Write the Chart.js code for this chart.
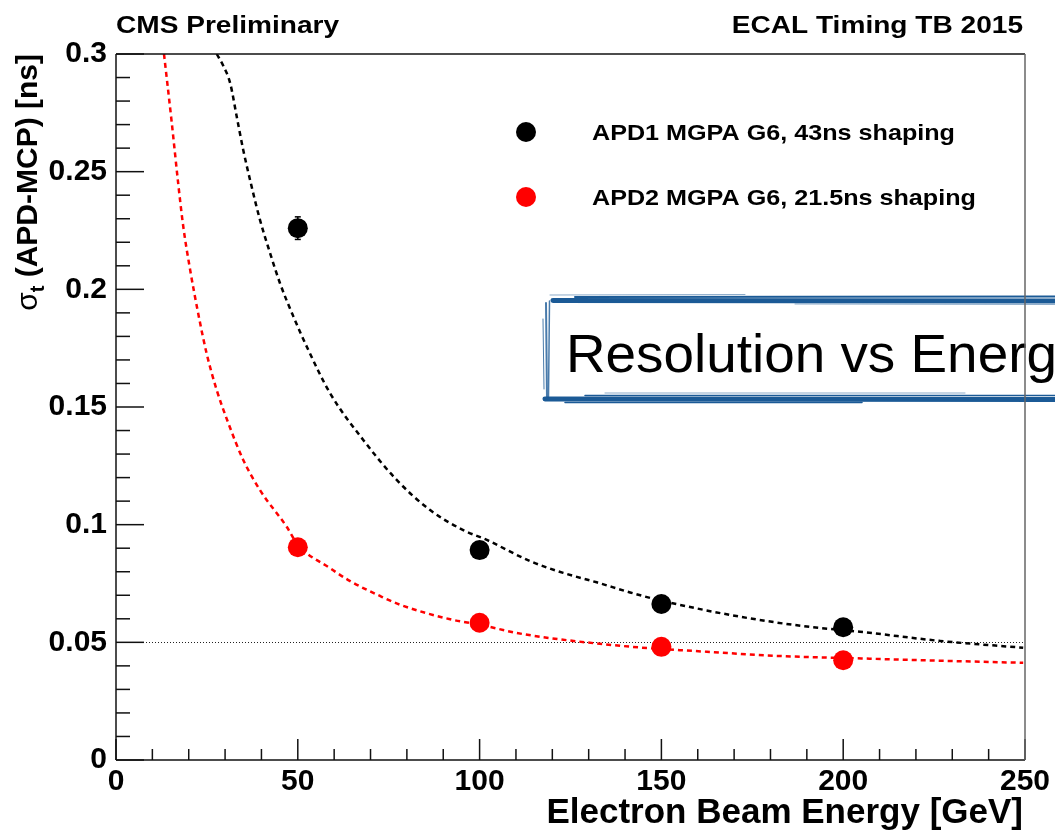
<!DOCTYPE html>
<html><head><meta charset="utf-8">
<script src="https://cdn.jsdelivr.net/npm/chart.js@4.4.1/dist/chart.umd.min.js"></script>
<style>html,body{margin:0;padding:0;background:#fff;overflow:hidden}canvas{display:block}</style>
</head><body>
<canvas id="c" width="1055" height="833"></canvas>
<script>
// ---- data ----
const energies = [50, 100, 150, 200];
const apd1Sigma = [0.2260, 0.0892, 0.0663, 0.0564];
const apd1Err   = [0.0048, 0.0015, 0.0012, 0.0012];
const apd2Sigma = [0.0904, 0.0583, 0.0481, 0.0424];
const apd2Err   = [0.0015, 0.0010, 0.0008, 0.0008];

const apd1FitE     = [27.7, 29.5, 31.4, 33.2, 35.0, 37.3, 39.6, 42.4, 45.1, 48.8, 52.9, 58.9, 68.0, 77.2, 86.4, 95.5, 102.0, 113.9, 123.0, 132.2, 141.4, 150.0, 171.6, 190.0, 204.6, 226.6, 249.5];
const apd1FitSigma = [0.300, 0.2950, 0.2876, 0.2734, 0.2592, 0.2437, 0.2295, 0.2153, 0.2026, 0.1884, 0.1742, 0.1558, 0.1360, 0.1190, 0.1062, 0.0977, 0.0935, 0.0845, 0.0795, 0.0755, 0.0712, 0.0677, 0.0609, 0.0567, 0.0545, 0.0506, 0.0477];

const apd2FitE     = [13.2, 15.3, 17.1, 18.5, 20.4, 22.6, 24.9, 27.7, 30.9, 35.0, 39.6, 46.9, 50.0, 58.9, 64.4, 72.6, 78.1, 91.9, 100.0, 110.2, 119.4, 144.1, 162.5, 180.8, 208.3, 226.6, 249.5];
const apd2FitSigma = [0.300, 0.2713, 0.2451, 0.2267, 0.2082, 0.1898, 0.1729, 0.1572, 0.1431, 0.1275, 0.1147, 0.0992, 0.0915, 0.0815, 0.0760, 0.0697, 0.0660, 0.0598, 0.0575, 0.0540, 0.0518, 0.0478, 0.0460, 0.0443, 0.0430, 0.0422, 0.0413];

const xTicks = [0, 50, 100, 150, 200, 250];
const yTicks = [0, 0.05, 0.1, 0.15, 0.2, 0.25, 0.3];
const yTickLabels = ['0', '0.05', '0.1', '0.15', '0.2', '0.25', '0.3'];
const referenceLevel = 0.05;
const seriesLabels = ['APD1 MGPA G6, 43ns shaping', 'APD2 MGPA G6, 21.5ns shaping'];
const seriesColors = ['#000000', '#ff0000'];
const titleLeft = 'CMS Preliminary';
const titleRight = 'ECAL Timing TB 2015';
const xTitle = 'Electron Beam Energy [GeV]';
const annotationText = 'Resolution vs Energy';

const FONT = '"Liberation Sans", Arial, Helvetica, sans-serif';

function pts(xs, ys) { return xs.map((x, i) => ({x: x, y: ys[i]})); }

function stretchedText(ctx, text, x, y, font, sx, align, color) {
  ctx.save();
  ctx.font = font;
  ctx.textBaseline = 'alphabetic';
  ctx.textAlign = 'left';
  const w = ctx.measureText(text).width * sx;
  const x0 = align === 'right' ? x - w : (align === 'center' ? x - w / 2 : x);
  ctx.translate(x0, y);
  ctx.scale(sx, 1);
  ctx.fillStyle = color || '#000';
  ctx.fillText(text, 0, 0);
  ctx.restore();
  return w;
}

function seg(ctx, x1, y1, x2, y2) { ctx.beginPath(); ctx.moveTo(x1, y1); ctx.lineTo(x2, y2); ctx.stroke(); }

const decorPlugin = {
  id: 'decor',
  beforeDatasetsDraw(chart) {
    const {ctx, chartArea: a, scales: {x, y}} = chart;
    ctx.save();
    ctx.strokeStyle = '#222';
    ctx.lineWidth = 1;
    ctx.setLineDash([1, 2]);
    const py = Math.round(y.getPixelForValue(referenceLevel)) + 0.5;
    seg(ctx, a.left, py, a.right, py);
    ctx.setLineDash([]);
    const sets = [[apd1Sigma, apd1Err, seriesColors[0]], [apd2Sigma, apd2Err, seriesColors[1]]];
    sets.forEach(([vals, errs, col]) => {
      ctx.strokeStyle = col; ctx.lineWidth = 1.5;
      vals.forEach((v, i) => {
        const px = x.getPixelForValue(energies[i]);
        const y1 = y.getPixelForValue(v + errs[i]);
        const y2 = y.getPixelForValue(v - errs[i]);
        seg(ctx, px, y1, px, y2);
        seg(ctx, px - 3, y1, px + 3, y1);
        seg(ctx, px - 3, y2, px + 3, y2);
      });
    });
    ctx.restore();
  },
  afterDraw(chart) {
    const {ctx, chartArea: a, scales: {x, y}} = chart;
    ctx.save();
    stretchedText(ctx, titleLeft, a.left, 33, 'bold 24px ' + FONT, 1.17, 'left');
    stretchedText(ctx, titleRight, 1023, 33, 'bold 24px ' + FONT, 1.17, 'right');
    const legY = [132, 197];
    seriesLabels.forEach((lab, i) => {
      ctx.fillStyle = seriesColors[i];
      ctx.beginPath(); ctx.arc(526, legY[i], 10, 0, Math.PI * 2); ctx.fill();
      stretchedText(ctx, lab, 592, legY[i] + 7.5, 'bold 21.5px ' + FONT, 1.17, 'left');
    });
    ctx.font = 'bold 35px ' + FONT;
    ctx.fillStyle = '#000';
    ctx.textAlign = 'right';
    ctx.textBaseline = 'alphabetic';
    ctx.fillText(xTitle, 1023, 823);
    ctx.save();
    ctx.translate(37, a.top);
    ctx.rotate(-Math.PI / 2);
    ctx.textAlign = 'left';
    const fMain = 'bold 30px ' + FONT, fSig = '30px ' + FONT, fSub = 'bold 20px ' + FONT;
    ctx.font = fSig; const wS = ctx.measureText('σ').width;
    ctx.font = fSub; const wT = ctx.measureText('t').width;
    ctx.font = fMain; const rest = ' (APD-MCP) [ns]'; const wR = ctx.measureText(rest).width;
    let cx = -(wS + wT + wR);
    ctx.font = fSig; ctx.fillText('σ', cx, 0); cx += wS;
    ctx.font = fSub; ctx.fillText('t', cx, 7); cx += wT;
    ctx.font = fMain; ctx.fillText(rest, cx, 0);
    ctx.restore();

    // annotation sketch box
    ctx.strokeStyle = '#1b5a96';
    ctx.lineCap = 'round';
    const bx0 = 545, by0 = 299, by1 = 399, bx1 = 1062;
    ctx.lineWidth = 5; seg(ctx, bx0 + 8, by0 + 1.5, bx1, by0 + 2);
    ctx.lineWidth = 2; seg(ctx, bx0 + 30, by0 - 2, bx1, by0 - 2.5);
    ctx.lineWidth = 5; seg(ctx, bx0, by1, bx1, by1 + 0.5);
    ctx.lineWidth = 1.5; seg(ctx, bx0 + 40, by1 - 3.5, bx1, by1 - 3.5);
    ctx.lineWidth = 1.5; seg(ctx, bx0 + 20, by1 + 3.5, bx1 - 200, by1 + 3.5);
    ctx.globalAlpha = 0.8;
    ctx.lineWidth = 2; seg(ctx, bx0 + 1, by0 + 4, bx0 + 2, by1);
    ctx.lineWidth = 1.5; seg(ctx, bx0 + 4.5, by0 + 2, bx0 + 3.5, by1 - 2);
    ctx.lineWidth = 1; seg(ctx, bx0 - 2, by0 + 20, bx0 - 1, by1 - 10);
    ctx.globalAlpha = 0.5;
    ctx.lineWidth = 1; seg(ctx, bx0 + 5, by0 - 4, bx0 + 200, by0 - 4.5);
    ctx.lineWidth = 1; seg(ctx, bx0 + 250, by0 + 5, bx1, by0 + 5.5);
    ctx.lineWidth = 1; seg(ctx, bx0 + 60, by1 - 6, bx0 + 420, by1 - 6);
    ctx.globalAlpha = 1;
    stretchedText(ctx, annotationText, 566, 372, '53px ' + FONT, 1.035, 'left');

    // frame and ticks
    ctx.lineCap = 'butt';
    ctx.strokeStyle = '#111';
    ctx.lineWidth = 1.5;
    for (let i = 0; i <= 30; i++) {
      const py = y.getPixelForValue(i / 100);
      const len = i % 5 === 0 ? 28 : 14;
      seg(ctx, a.left, py, a.left + len, py);
    }
    for (let i = 0; i <= 25; i++) {
      const px = x.getPixelForValue(i * 10);
      const len = i % 5 === 0 ? 21 : 11;
      seg(ctx, px, a.bottom, px, a.bottom - len);
    }
    seg(ctx, a.left, a.top, a.left, a.bottom);
    seg(ctx, a.left, a.bottom, a.right, a.bottom);
    seg(ctx, a.left, a.top, a.right, a.top);
    ctx.strokeStyle = '#666';
    seg(ctx, a.right, a.top, a.right, a.bottom);
    ctx.restore();
  }
};

new Chart(document.getElementById('c'), {
  type: 'scatter',
  data: {
    datasets: [
      {label: seriesLabels[0] + ' fit', data: pts(apd1FitE, apd1FitSigma), showLine: true, borderColor: seriesColors[0], borderWidth: 2.5, borderDash: [5, 4], pointRadius: 0, cubicInterpolationMode: 'monotone', fill: false},
      {label: seriesLabels[1] + ' fit', data: pts(apd2FitE, apd2FitSigma), showLine: true, borderColor: seriesColors[1], borderWidth: 2.5, borderDash: [5, 4], pointRadius: 0, cubicInterpolationMode: 'monotone', fill: false},
      {label: seriesLabels[0], data: pts(energies, apd1Sigma), backgroundColor: seriesColors[0], borderWidth: 0, pointRadius: 10, pointHoverRadius: 10},
      {label: seriesLabels[1], data: pts(energies, apd2Sigma), backgroundColor: seriesColors[1], borderWidth: 0, pointRadius: 10, pointHoverRadius: 10}
    ]
  },
  options: {
    responsive: false,
    animation: false,
    events: [],
    layout: {padding: {top: 54, right: 30, left: 0, bottom: 0}},
    plugins: {legend: {display: false}, tooltip: {enabled: false}},
    scales: {
      x: {
        type: 'linear', min: 0, max: 250,
        afterBuildTicks: s => { s.ticks = xTicks.map(v => ({value: v})); },
        afterFit: s => { s.height = 73; },
        grid: {display: false, drawTicks: false},
        border: {display: false},
        ticks: {font: {family: FONT, size: 30, weight: 'bold'}, color: '#000', padding: 4, maxRotation: 0, autoSkip: false}
      },
      y: {
        type: 'linear', min: 0, max: 0.3,
        afterBuildTicks: s => { s.ticks = yTicks.map(v => ({value: v})); },
        afterFit: s => { s.width = 116; },
        grid: {display: false, drawTicks: false},
        border: {display: false},
        ticks: {font: {family: FONT, size: 30, weight: 'bold'}, color: '#000', padding: 9, autoSkip: false,
          callback: (v, i) => yTickLabels[i]}
      }
    }
  },
  plugins: [decorPlugin]
});
</script>
</body></html>
